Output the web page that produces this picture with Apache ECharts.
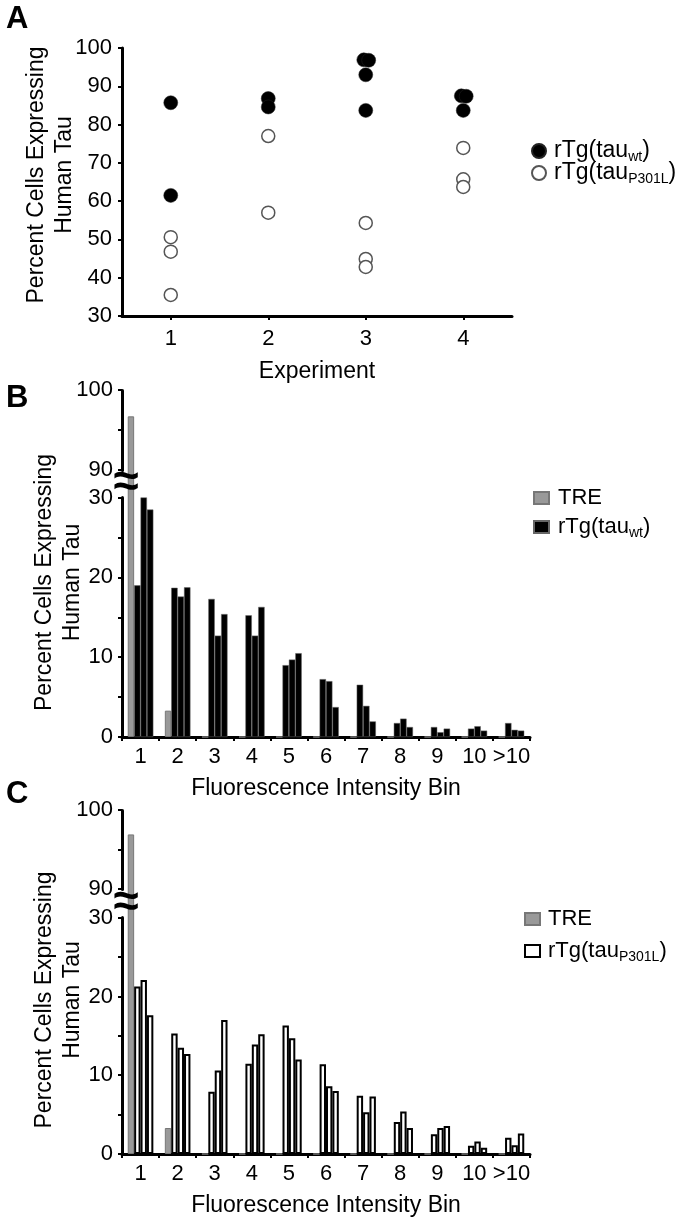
<!DOCTYPE html>
<html><head><meta charset="utf-8">
<script src="https://cdn.jsdelivr.net/npm/echarts@6/dist/echarts.min.js"></script>
<style>html,body{margin:0;padding:0;background:#fff}#c{width:686px;height:1221px}</style>
</head><body><div id="c"></div>
<script>
// ---------- Panel A: percent cells expressing human tau per experiment ----------
const experimentTicks = [1, 2, 3, 4];
const wtPoints = [[1, 85.7], [1, 61.5], [2, 86.8], [2, 84.6], [2.98, 96.9], [3.03, 96.8], [3, 93.0], [3, 83.7], [3.98, 87.5], [4.03, 87.4], [4, 83.7]];
const p301lPoints = [[1, 50.6], [1, 46.8], [1, 35.5], [2, 77.0], [2, 57.0], [3, 54.3], [3, 44.9], [3, 42.8], [4, 73.9], [4, 65.7], [4, 63.7]];

// ---------- Panels B & C: fluorescence intensity bins ----------
const bins = ['1', '2', '3', '4', '5', '6', '7', '8', '9', '10', '>10'];
const treB = [96.7, 3.3, 0, 0, 0, 0, 0, 0, 0, 0, 0];
const wtRep1 = [19.0, 18.7, 17.3, 15.25, 9.0, 7.25, 6.55, 1.75, 1.25, 1.05, 1.75];
const wtRep2 = [30.2, 17.6, 12.7, 12.7, 9.7, 7.0, 3.9, 2.3, 0.6, 1.35, 0.9];
const wtRep3 = [28.5, 18.75, 15.4, 16.3, 10.5, 3.75, 1.95, 1.25, 1.05, 0.8, 0.8];
const treC = [96.9, 3.3, 0, 0, 0, 0, 0, 0, 0, 0, 0];
const pRep1 = [21.25, 15.3, 7.9, 11.45, 16.3, 11.4, 7.4, 4.05, 2.5, 1.05, 2.05];
const pRep2 = [22.1, 13.5, 10.6, 13.9, 14.7, 8.6, 5.3, 5.4, 3.3, 1.6, 1.1];
const pRep3 = [17.6, 12.7, 17.0, 15.2, 12.0, 8.0, 7.3, 3.3, 3.55, 0.8, 2.6];

const yTitle = 'Percent Cells Expressing\nHuman Tau';
const xTitleA = 'Experiment';
const xTitleBC = 'Fluorescence Intensity Bin';
// series names: "panel:label"; the legend shows the label part only
const A_WT = 'A:rTg(tau_wt)', A_P = 'A:rTg(tau_P301L)';
const B_TRE = 'B:TRE', B_WT = 'B:rTg(tau_wt)';
const C_TRE = 'C:TRE', C_P = 'C:rTg(tau_P301L)';

const FONT = '"Liberation Sans", Arial, Helvetica, sans-serif';
const AX = { color: '#000', width: 3 };
const TICK = { show: true, length: 4, lineStyle: { color: '#000', width: 2 } };
const LBL = { color: '#000', fontSize: 22, fontFamily: FONT };
const NAMESTYLE = { color: '#000', fontSize: 23, fontFamily: FONT, lineHeight: 28 };

function legendFmt(full) {
  const name = full.slice(full.indexOf(':') + 1);
  const i = name.indexOf('_');
  if (i < 0) return '{m|' + name + '}';
  return '{m|' + name.slice(0, i) + '}{s|' + name.slice(i + 1, name.length - 1) + '}{m|)}';
}
function rich(size) {
  return {
    m: { fontSize: size, fontFamily: FONT, color: '#000', lineHeight: 22 },
    s: { fontSize: 14, fontFamily: FONT, color: '#000', lineHeight: 22, padding: [12, 0, 0, 0] }
  };
}

const chart = echarts.init(document.getElementById('c'), null, { renderer: 'canvas' });

const option = {
  animation: false,
  backgroundColor: '#fff',
  textStyle: { fontFamily: FONT },
  grid: [
    { left: 122, right: 174, top: 48, bottom: 905 },
    { left: 122, right: 156, top: 390, bottom: 484 },
    { left: 122, right: 156, top: 810, bottom: 66 }
  ],
  legend: [
    { data: [A_WT, A_P], orient: 'vertical', left: 526, top: 133, icon: 'circle', itemWidth: 14, itemHeight: 14, itemGap: -4,
      formatter: legendFmt, textStyle: { padding: [0, 0, 0, 3], rich: rich(23) }, selectedMode: false },
    { data: [B_TRE, B_WT], orient: 'vertical', left: 528, top: 482, icon: 'rect', itemWidth: 15, itemHeight: 12, itemGap: 5,
      formatter: legendFmt, textStyle: { padding: [0, 0, 0, 4], rich: rich(22) }, selectedMode: false },
    { data: [C_TRE, C_P], orient: 'vertical', left: 519, top: 903, icon: 'rect', itemWidth: 15, itemHeight: 12, itemGap: 8,
      formatter: legendFmt, textStyle: { padding: [0, 0, 0, 3], rich: rich(22) }, selectedMode: false }
  ],
  xAxis: [
    { gridIndex: 0, type: 'value', min: 0.5, max: 4.5, splitLine: { show: false },
      axisLine: { show: true, onZero: false, lineStyle: AX },
      axisTick: Object.assign({ customValues: experimentTicks }, TICK),
      axisLabel: Object.assign({ customValues: experimentTicks, margin: 12 }, LBL),
      name: xTitleA, nameLocation: 'middle', nameGap: 42, nameTextStyle: NAMESTYLE },
    { gridIndex: 1, type: 'category', data: bins,
      axisLine: { show: true, onZero: false, lineStyle: AX }, axisTick: TICK,
      axisLabel: Object.assign({ margin: 9, interval: 0 }, LBL),
      name: xTitleBC, nameLocation: 'middle', nameGap: 38, nameTextStyle: NAMESTYLE },
    { gridIndex: 2, type: 'category', data: bins,
      axisLine: { show: true, onZero: false, lineStyle: AX }, axisTick: TICK,
      axisLabel: Object.assign({ margin: 9, interval: 0 }, LBL),
      name: xTitleBC, nameLocation: 'middle', nameGap: 38, nameTextStyle: NAMESTYLE }
  ],
  yAxis: [
    { gridIndex: 0, type: 'value', min: 30, max: 100, interval: 10, splitLine: { show: false },
      axisLine: { show: true, lineStyle: AX }, axisTick: TICK,
      axisLabel: Object.assign({ margin: 10 }, LBL),
      name: yTitle, nameLocation: 'middle', nameRotate: 90, nameGap: 43, nameMoveOverlap: false,
      nameTextStyle: Object.assign({ padding: [0, 0, 0, 14] }, NAMESTYLE) },
    { gridIndex: 1, type: 'value', min: 0, max: 100, interval: 5, splitLine: { show: false },
      breaks: [{ start: 30, end: 90, gap: '8%' }],
      breakArea: { show: false },
      axisLine: { show: true, lineStyle: AX }, axisTick: TICK,
      axisLabel: Object.assign({ margin: 9, formatter: v => (v % 10 === 0 ? String(v) : '') }, LBL),
      name: yTitle, nameLocation: 'middle', nameRotate: 90, nameGap: 35, nameMoveOverlap: false,
      nameTextStyle: Object.assign({ padding: [0, 38, 0, 0] }, NAMESTYLE) },
    { gridIndex: 2, type: 'value', min: 0, max: 100, interval: 5, splitLine: { show: false },
      breaks: [{ start: 30, end: 90, gap: '8.4%' }],
      breakArea: { show: false },
      axisLine: { show: true, lineStyle: AX }, axisTick: TICK,
      axisLabel: Object.assign({ margin: 9, formatter: v => (v % 10 === 0 ? String(v) : '') }, LBL),
      name: yTitle, nameLocation: 'middle', nameRotate: 90, nameGap: 35, nameMoveOverlap: false,
      nameTextStyle: Object.assign({ padding: [0, 36, 0, 0] }, NAMESTYLE) }
  ],
  series: [
    { name: A_WT, type: 'scatter', xAxisIndex: 0, yAxisIndex: 0, data: wtPoints, symbol: 'circle', symbolSize: 14,
      itemStyle: { color: '#000', opacity: 1, borderColor: '#222', borderWidth: 0.5 } },
    { name: A_P, type: 'scatter', xAxisIndex: 0, yAxisIndex: 0, data: p301lPoints, symbol: 'circle', symbolSize: 13,
      itemStyle: { color: '#fff', opacity: 1, borderColor: '#555', borderWidth: 1.5 } },

    { name: B_TRE, type: 'bar', xAxisIndex: 1, yAxisIndex: 1, data: treB, barGap: '0%', barCategoryGap: '31%',
      itemStyle: { color: '#999', borderColor: '#777', borderWidth: 1 } },
    { name: B_WT, type: 'bar', xAxisIndex: 1, yAxisIndex: 1, data: wtRep1, barGap: '0%', barCategoryGap: '31%',
      itemStyle: { color: '#000', borderColor: '#666', borderWidth: 0.5 } },
    { name: B_WT, type: 'bar', xAxisIndex: 1, yAxisIndex: 1, data: wtRep2, barGap: '0%', barCategoryGap: '31%',
      itemStyle: { color: '#000', borderColor: '#666', borderWidth: 0.5 } },
    { name: B_WT, type: 'bar', xAxisIndex: 1, yAxisIndex: 1, data: wtRep3, barGap: '0%', barCategoryGap: '31%',
      itemStyle: { color: '#000', borderColor: '#666', borderWidth: 0.5 } },

    { name: C_TRE, type: 'bar', xAxisIndex: 2, yAxisIndex: 2, data: treC, barGap: '0%', barCategoryGap: '31%',
      itemStyle: { color: '#999', borderColor: '#777', borderWidth: 1 } },
    { name: C_P, type: 'bar', xAxisIndex: 2, yAxisIndex: 2, data: pRep1, barGap: '0%', barCategoryGap: '31%',
      itemStyle: { color: '#fff', borderColor: '#000', borderWidth: 2 } },
    { name: C_P, type: 'bar', xAxisIndex: 2, yAxisIndex: 2, data: pRep2, barGap: '0%', barCategoryGap: '31%',
      itemStyle: { color: '#fff', borderColor: '#000', borderWidth: 2 } },
    { name: C_P, type: 'bar', xAxisIndex: 2, yAxisIndex: 2, data: pRep3, barGap: '0%', barCategoryGap: '31%',
      itemStyle: { color: '#fff', borderColor: '#000', borderWidth: 2 } }
  ]
};
chart.setOption(option);

// Panel letters and axis-break marks
const gfx = [
  { type: 'text', left: 6, top: 4, style: { text: 'A', font: 'bold 31px ' + FONT, fill: '#000' } },
  { type: 'text', left: 6, top: 383, style: { text: 'B', font: 'bold 31px ' + FONT, fill: '#000' } },
  { type: 'text', left: 6, top: 779, style: { text: 'C', font: 'bold 31px ' + FONT, fill: '#000' } }
];
[1, 2].forEach(function (gi) {
  const y30 = chart.convertToPixel({ yAxisIndex: gi }, 30);
  const y90 = chart.convertToPixel({ yAxisIndex: gi }, 90);
  const ym = (y30 + y90) / 2;
  gfx.push({ type: 'text', x: 126, y: ym, z: 100,
    style: { text: '\u2248', font: 'bold 46px ' + FONT, fill: '#000', align: 'center', verticalAlign: 'middle' } });
});
chart.setOption({ graphic: gfx });
</script>
</body></html>
